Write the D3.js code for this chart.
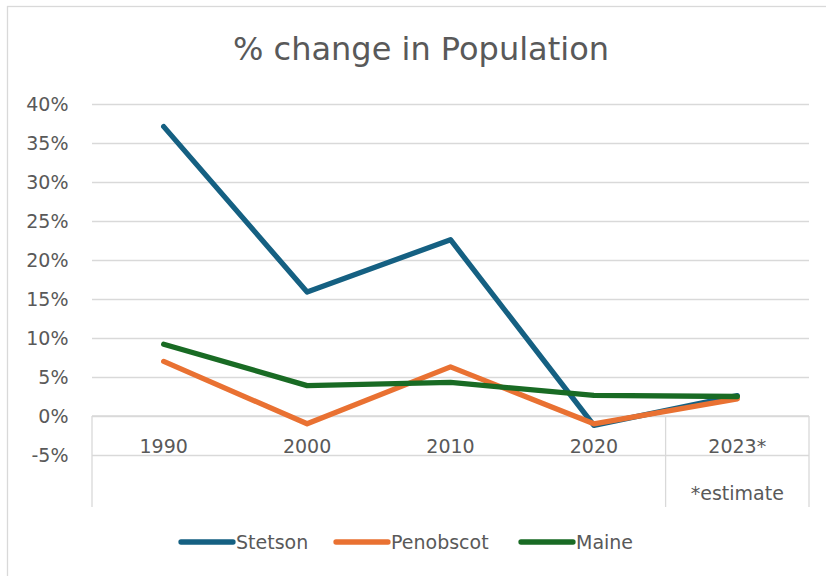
<!DOCTYPE html>
<html><head><meta charset="utf-8">
<script src="https://cdn.jsdelivr.net/npm/d3@7"></script>
<style>body{margin:0;background:#fff}svg{display:block}text{font-family:"DejaVu Sans",sans-serif;fill:#595959}</style>
</head><body><svg id="c" width="826" height="576"></svg>
<script>
const categories = ["1990","2000","2010","2020","2023*"];
const stetson   = [37.1, 15.9, 22.6, -1.2, 2.6];
const penobscot = [7.0, -1.0, 6.3, -1.0, 2.2];
const maine     = [9.2, 3.9, 4.3, 2.65, 2.5];
const seriesNames = ["Stetson","Penobscot","Maine"];
const seriesColors = ["#156082","#E97132","#196B24"];
const yTicks = [-5,0,5,10,15,20,25,30,35,40];
const title = "% change in Population";
const note = "*estimate";

const svg = d3.select("#c");
svg.append("rect").attr("x",7.5).attr("y",6.5).attr("width",840).attr("height",600)
  .attr("fill","none").attr("stroke","#d9d9d9").attr("stroke-width",1.3);

const L=92, R=809;
const x = d3.scaleBand().domain(categories).range([L,R]);
const y = d3.scaleLinear().domain([-5,40]).range([455,104]);

svg.append("text").attr("x",421).attr("y",60).attr("text-anchor","middle")
  .style("font-size","32px").text(title);

// gridlines
const yAxis = d3.axisLeft(y).tickValues(yTicks).tickSize(-(R-L)).tickFormat(d=>d+"%");
const gy = svg.append("g").attr("transform",`translate(${L},0)`).call(yAxis);
gy.select(".domain").remove();
gy.selectAll(".tick line").attr("stroke","#d9d9d9").attr("stroke-width",1.3);
gy.selectAll(".tick text").attr("x",-23.5).style("font-size","19px").style("font-family","DejaVu Sans").attr("fill","#595959");

// category axis (multi-level)
const y0=y(0), yb=507;
const ax = svg.append("g");
ax.append("line").attr("x1",L).attr("x2",R).attr("y1",y0).attr("y2",y0).attr("stroke","#d9d9d9").attr("stroke-width",1.3);
[L, x("2023*"), R].forEach(xx=>{
  ax.append("line").attr("x1",xx).attr("x2",xx).attr("y1",y0).attr("y2",yb).attr("stroke","#d9d9d9").attr("stroke-width",1.3);
});
categories.forEach(c=>{
  ax.append("text").attr("x",x(c)+x.bandwidth()/2).attr("y",453).attr("text-anchor","middle")
    .style("font-size","19px").text(c);
});
ax.append("text").attr("x",x("2023*")+x.bandwidth()/2).attr("y",500).attr("text-anchor","middle")
  .style("font-size","19px").text(note);

// lines
const data=[stetson,penobscot,maine];
const line=d3.line().x((d,i)=>x(categories[i])+x.bandwidth()/2).y(d=>y(d));
data.forEach((s,k)=>{
  svg.append("path").attr("d",line(s)).attr("fill","none").attr("stroke",seriesColors[k])
    .attr("stroke-width",5.3).attr("stroke-linejoin","round").attr("stroke-linecap","round");
});

// legend
const legX=[181,336,521];
seriesNames.forEach((n,k)=>{
  svg.append("line").attr("x1",legX[k]).attr("x2",legX[k]+52).attr("y1",542).attr("y2",542)
    .attr("stroke",seriesColors[k]).attr("stroke-width",5.3).attr("stroke-linecap","round");
  svg.append("text").attr("x",legX[k]+55).attr("y",549).style("font-size","19px").text(n);
});
</script></body></html>
